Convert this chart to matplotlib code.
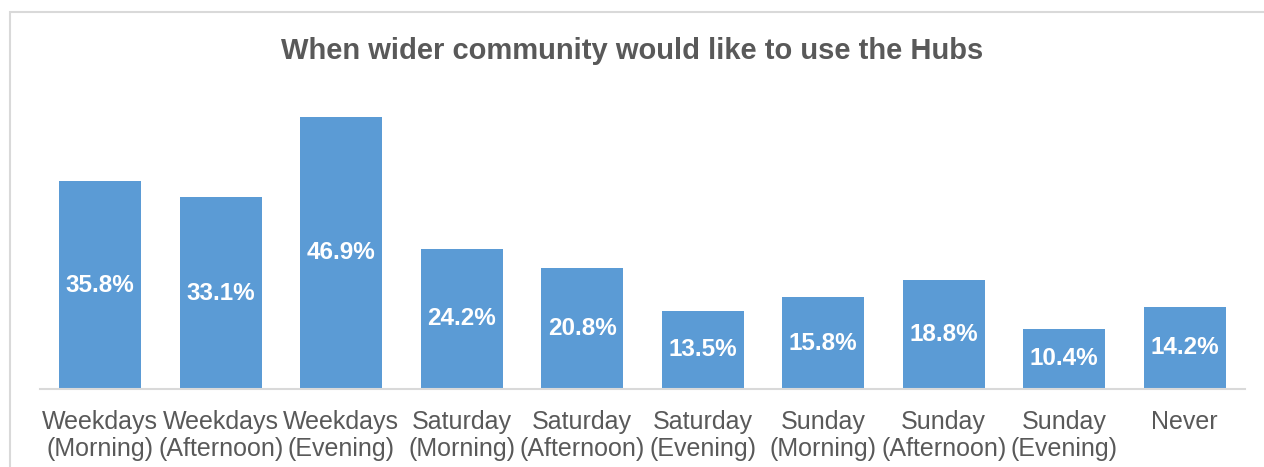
import matplotlib.pyplot as plt
from matplotlib.patches import Rectangle

categories = ['Weekdays\n(Morning)', 'Weekdays\n(Afternoon)', 'Weekdays\n(Evening)',
              'Saturday\n(Morning)', 'Saturday\n(Afternoon)', 'Saturday\n(Evening)',
              'Sunday\n(Morning)', 'Sunday\n(Afternoon)', 'Sunday\n(Evening)', 'Never']
values = [35.8, 33.1, 46.9, 24.2, 20.8, 13.5, 15.8, 18.8, 10.4, 14.2]

plt.rcParams['font.family'] = ['Liberation Sans', 'DejaVu Sans']

fig = plt.figure(figsize=(12.64, 4.67), dpi=100)
# outer chart border (light gray)
fig.patches.append(Rectangle((10 / 1264, -0.1), 1.2, 1 - 12 / 467 + 0.1,
                             transform=fig.transFigure, fill=False,
                             edgecolor='#d9d9d9', linewidth=1.5))

ax = fig.add_axes([40 / 1264, 78 / 467, 1205 / 1264, 290 / 467])
x = range(len(values))
bars = ax.bar(x, values, width=0.68, color='#5b9bd5')
for b, v in zip(bars, values):
    ax.text(b.get_x() + b.get_width() / 2, v / 2, f'{v}%', ha='center', va='center',
            color='white', fontsize=17.5, fontweight='bold')

ax.set_xlim(-0.5, len(values) - 0.5)
ax.set_ylim(0, 50)
ax.set_xticks(list(x))
ax.set_xticklabels(categories, fontsize=18, color='#595959', linespacing=1.15)
ax.tick_params(axis='x', length=0, pad=15)
ax.set_yticks([])
for s in ['top', 'left', 'right']:
    ax.spines[s].set_visible(False)
ax.spines['bottom'].set_color('#d9d9d9')
ax.spines['bottom'].set_linewidth(1.5)

fig.text(0.5, 1 - 51 / 467, 'When wider community would like to use the Hubs',
         ha='center', va='center', fontsize=21, fontweight='bold', color='#595959')

fig.savefig('out.png', dpi=100)
